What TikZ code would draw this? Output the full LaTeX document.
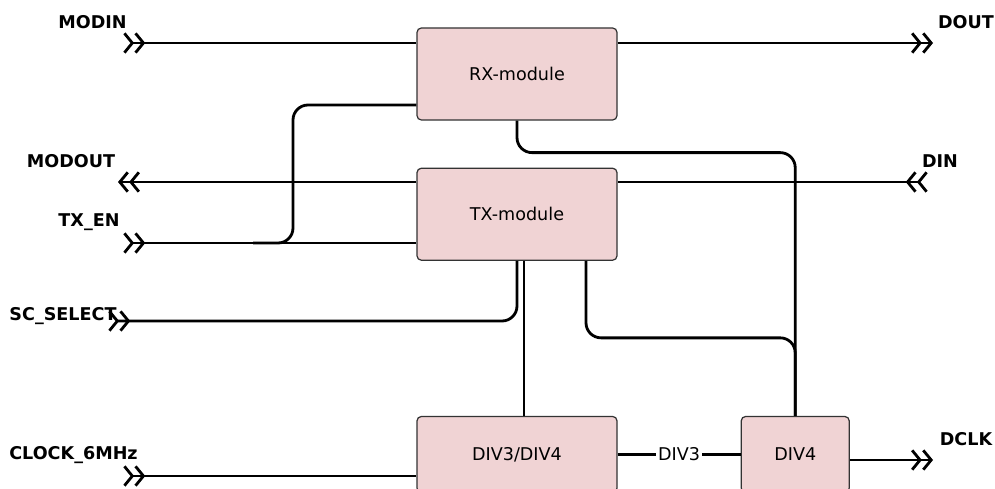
\documentclass[tikz,border=0pt]{standalone}
\usepackage{fontspec}
\setmainfont{DejaVu Sans}
\usepackage{tikz}
\usetikzlibrary{positioning, arrows.meta}

\definecolor{modfill}{HTML}{F0D3D4}
\definecolor{modline}{HTML}{333333}

\tikzset{
  module/.style={
    rectangle,
    draw=modline,
    fill=modfill,
    line width=0.7pt,
    rounded corners=2.5pt,
    minimum width=4cm,
    minimum height=1.84cm,
    font=\fontsize{10}{12}\selectfont
  },
  sig/.style={
    font=\bfseries\fontsize{10}{12}\selectfont,
    inner sep=1pt
  },
  wire/.style={
    line width=1.6pt,
    draw=black
  },
  outwire/.style={
    wire,
    -{Straight Barb[length=4.5pt,width=11pt] Straight Barb[length=4.5pt,width=11pt]}
  },
  inwire/.style={
    wire,
    {Straight Barb[reversed,length=4.5pt,width=11pt] Straight Barb[reversed,length=4.5pt,width=11pt]}-
  }
}

\begin{document}
\begin{tikzpicture}
\useasboundingbox (0,0) rectangle (19.9,-9.76);

% Blocks
\node (rx) [module] at (10.34,-1.48) {RX-module};
\node (tx) [module, below=0.94cm of rx] {TX-module};
\node (div34) [module, below=3.1cm of tx, minimum height=1.52cm] {DIV3/DIV4};
\node (div4) [module, right=2.46cm of div34, minimum width=2.16cm, minimum height=1.52cm] {DIV4};

% Ports
\coordinate (modin) at (2.46,-0.86);
\coordinate (dout) at (18.66,-0.86);
\coordinate (modout) at (2.36,-3.64);
\coordinate (din) at (18.56,-3.64);
\coordinate (txen) at (2.46,-4.86);
\coordinate (scsel) at (2.16,-6.42);
\coordinate (clk) at (2.46,-9.52);
\coordinate (dclk) at (18.66,-9.2);

% Port names
\node (modinlbl) [sig] at (1.85,-0.44) {MODIN};
\node (doutlbl) [sig] at (19.32,-0.44) {DOUT};
\node (modoutlbl) [sig] at (1.42,-3.23) {MODOUT};
\node (dinlbl) [sig] at (18.8,-3.23) {DIN};
\node (txenlbl) [sig] at (1.78,-4.44) {TX\_EN};
\node (scsellbl) [sig] at (1.26,-6.32) {SC\_SELECT};
\node (clklbl) [sig] at (1.47,-9.1) {CLOCK\_6MHz};
\node (dclklbl) [sig] at (19.32,-8.78) {DCLK};

% Inputs and outputs
\draw [inwire] (modin) -- (modin -| rx.west);
\draw [outwire] (dout -| rx.east) -- (dout);
\draw [outwire] (modout -| tx.west) -- (modout);
\draw [inwire] (din) -- (din -| tx.east);
\draw [inwire] (txen) -- (txen -| tx.west);
\draw [inwire, rounded corners=0.3cm] (scsel) -| (tx.south);
\draw [inwire] (clk) -- (clk -| div34.west);
\draw [outwire] (dclk -| div4.east) -- (dclk);

% Internal wiring
\draw [wire, rounded corners=0.3cm] ([yshift=-0.62cm]rx.west) -| ([xshift=3.4cm]txen) -- ([xshift=2.6cm]txen);
\draw [wire, rounded corners=0.3cm] (rx.south) -- ++(0,-0.64) -| (div4.north);
\draw [wire, rounded corners=0.3cm] ([xshift=1.38cm]tx.south) -- ++(0,-1.54) -| (div4.north);
\draw [wire] ([xshift=0.14cm]tx.south) -- ([xshift=0.14cm]div34.north);
\draw [wire] (div34) -- node[fill=white, inner sep=1pt, font=\fontsize{10}{12}\selectfont] {DIV3} (div4);

\end{tikzpicture}
\end{document}
